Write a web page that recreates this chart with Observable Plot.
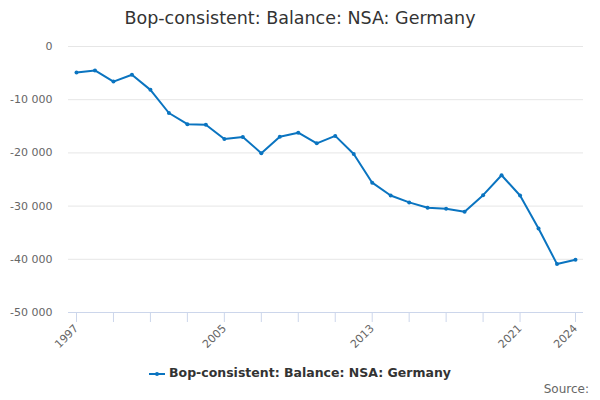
<!DOCTYPE html>
<html>
<head>
<meta charset="utf-8">
<script src="https://cdn.jsdelivr.net/npm/d3@7"></script>
<script src="https://cdn.jsdelivr.net/npm/@observablehq/plot@0.6"></script>
<style>
  html, body { margin: 0; padding: 0; background: #fff; }
  body { width: 600px; height: 400px; position: relative; overflow: hidden; font-family: "DejaVu Sans", sans-serif; }
  #title { position: absolute; left: 0; top: 7px; width: 600px; text-align: center; font-size: 17.5px; line-height: 22px; color: #333; }
  #chart { position: absolute; left: 0; top: 36px; }
  #legend { position: absolute; left: 0; top: 365px; width: 600px; text-align: center; font-size: 12.5px; font-weight: bold; color: #333; }
  #legend svg { vertical-align: middle; margin-right: 4px; }
  #source { position: absolute; right: 11px; top: 382px; font-size: 12px; color: #666; }
</style>
</head>
<body>
<div id="title">Bop-consistent: Balance: NSA: Germany</div>
<div id="chart"></div>
<div id="legend"><svg width="16" height="10"><line x1="0" y1="5" x2="16" y2="5" stroke="#0a74c0" stroke-width="2"/><circle cx="8" cy="5" r="2" fill="#0a74c0"/></svg><span id="legendText"></span></div>
<div id="source">Source:</div>
<script>
const seriesName = "Bop-consistent: Balance: NSA: Germany";
const years = [1997,1998,1999,2000,2001,2002,2003,2004,2005,2006,2007,2008,2009,2010,2011,2012,2013,2014,2015,2016,2017,2018,2019,2020,2021,2022,2023,2024];
const values = [-4900,-4500,-6600,-5300,-8150,-12500,-14600,-14700,-17400,-17000,-20050,-16950,-16200,-18200,-16800,-20200,-25600,-28000,-29300,-30300,-30500,-31050,-27950,-24200,-28000,-34200,-40900,-40100];
const xTicks = [1997,1999,2001,2003,2005,2007,2009,2011,2013,2015,2017,2019,2021,2024];
const xLabels = [1997,2005,2013,2021,2024];
const yTicks = [0,-10000,-20000,-30000,-40000,-50000];

document.getElementById("legendText").textContent = seriesName;

const data = years.map((y, i) => ({year: y, value: values[i]}));
const fmtY = v => v === 0 ? "0" : (v < 0 ? "-" : "") + d3.format(",")(Math.abs(v)).replace(/,/g, " ");
const color = "#0a74c0";

const chart = Plot.plot({
  width: 600,
  height: 320,
  marginTop: 10,
  marginBottom: 44,
  marginLeft: 68,
  marginRight: 17,
  insetLeft: 8,
  insetRight: 8,
  style: {fontFamily: "DejaVu Sans, sans-serif", fontSize: "11px", background: "#fff"},
  x: {domain: [1997, 2024]},
  y: {domain: [-50000, 0]},
  marks: [
    Plot.gridY(yTicks.filter(d => d !== -50000), {stroke: "#e6e6e6", strokeOpacity: 1}),
    Plot.ruleY([-50000], {stroke: "#ccd6eb"}),
    Plot.axisY({ticks: yTicks, tickFormat: fmtY, tickSize: 0, tickPadding: 16, fill: "#666", label: null}),
    Plot.axisX({ticks: xTicks, tickFormat: d => xLabels.includes(d) ? String(d) : "", tickSize: 10, tickPadding: 4, tickRotate: -45, stroke: "#ccd6eb", strokeOpacity: 1, fill: "#666", label: null}),
    Plot.line(data, {x: "year", y: "value", stroke: color, strokeWidth: 2}),
    Plot.dot(data, {x: "year", y: "value", fill: color, r: 2})
  ]
});
document.getElementById("chart").appendChild(chart);
</script>
</body>
</html>
